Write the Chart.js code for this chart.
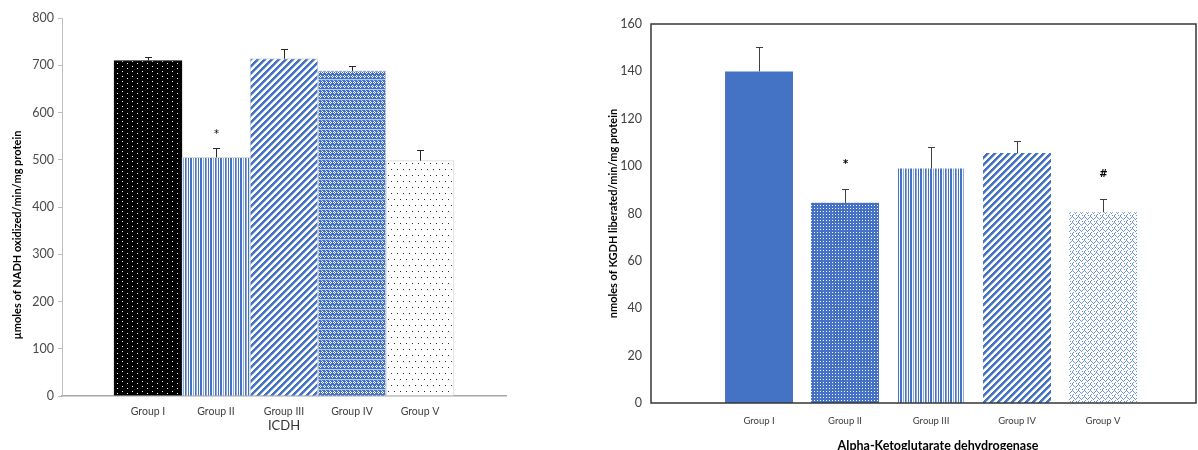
<!DOCTYPE html>
<html>
<head>
<meta charset="utf-8">
<script src="https://cdn.jsdelivr.net/npm/chart.js@4.4.1/dist/chart.umd.min.js"></script>
<style>
  html, body { margin: 0; padding: 0; background: #fff; overflow: hidden; }
  .panel { position: absolute; top: 0; height: 450px; }
  #leftPanel { left: 0; width: 600px; }
  #rightPanel { left: 600px; width: 598px; }
</style>
</head>
<body>
<div class="panel" id="leftPanel"><canvas id="icdh" width="600" height="450"></canvas></div>
<div class="panel" id="rightPanel"><canvas id="kgdh" width="598" height="450"></canvas></div>
<script>
// Experimental groups
const groups = ['Group I', 'Group II', 'Group III', 'Group IV', 'Group V'];
const groupPos = [1, 2, 3, 4, 5];

// Isocitrate dehydrogenase activity (µmoles NADH oxidized/min/mg protein)
const icdhMean = [710, 505, 714, 688, 498];
const icdhErr = [8, 19, 20, 11, 22];
const icdhMarks = ['', '*', '', '', ''];

// Alpha-ketoglutarate dehydrogenase activity (nmoles liberated/min/mg protein)
const kgdhMean = [140, 84.5, 99, 105.5, 80.5];
const kgdhErr = [10.5, 6, 9, 5, 5.5];
const kgdhMarks = ['', '*', '', '', '#'];

// Axis ticks
const icdhTicks = { min: 0, max: 800, step: 100 };
const kgdhTicks = { min: 0, max: 160, step: 20 };

const FONT = 'Lato, "Open Sans", sans-serif';
const MARK_FONT = '"DejaVu Sans", "Liberation Sans", sans-serif';
const BLUE = '#4472C4';

// Build a repeating fill from a small character map
function tile(ctx, rows, colors) {
  const h = rows.length, w = rows[0].length;
  const c = document.createElement('canvas');
  c.width = w; c.height = h;
  const g = c.getContext('2d');
  for (let yy = 0; yy < h; yy++) {
    for (let xx = 0; xx < w; xx++) {
      const col = colors[rows[yy][xx]];
      if (col) { g.fillStyle = col; g.fillRect(xx, yy, 1, 1); }
    }
  }
  return ctx.createPattern(c, 'repeat');
}

// Diagonal "/" hatching
function diagonal(ctx, period, width, color, edge) {
  const rows = [];
  for (let yy = 0; yy < period; yy++) {
    let r = '';
    for (let xx = 0; xx < period; xx++) {
      const k = (xx + yy) % period;
      r += k < width ? 'B' : (k === width ? 'l' : 'w');
    }
    rows.push(r);
  }
  return tile(ctx, rows, { B: color, l: edge, w: '#ffffff' });
}

const pal = { B: BLUE, L: '#8FAADC', l: '#B4C7E7', w: '#ffffff', k: '#000000', d: '#2b2b2b' };

function icdhFills(ctx) {
  return [
    tile(ctx, [
      'kkkkkkkkkk',
      'kkwkkkkkkk',
      'kkkkkkkkkk',
      'kkkkkkkwkk',
      'kkkkkkkkkk',
      'kkkkkkkkkk',
      'kkwkkkkkkk',
      'kkkkkkkkkk',
      'kkkkkkkwkk',
      'kkkkkkkkkk'
    ], pal),
    tile(ctx, ['BBwLwBLwBw'], pal),
    diagonal(ctx, 7, 3, BLUE, '#9DB5E2'),
    tile(ctx, [
      'BlBBBlBB',
      'BBwBBBwB',
      'BwBwBwBw',
      'BBwBBBwB',
      'BBBBBBBB',
      'wBBBwBBB',
      'BwBwBwBw',
      'wBBBwBBB',
      'BBBBBBBB',
      'llllllll'
    ], pal),
    tile(ctx, [
      'wwwwwwwwwwww',
      'wdwwwwwdwwww',
      'wwwwwwwwwwww',
      'wwwwwwwwwwww',
      'wwwwwwwwwwww',
      'wwwwwwwwwwww',
      'wwwwwwwwwwww',
      'wwwwdwwwwwdw',
      'wwwwwwwwwwww',
      'wwwwwwwwwwww',
      'wwwwwwwwwwww',
      'wwwwwwwwwwww'
    ], pal)
  ];
}

function kgdhFills(ctx) {
  return [
    BLUE,
    tile(ctx, [
      'BBBBBB',
      'BwBBwB',
      'BBBBBB',
      'BBBBBB',
      'BwBBwB',
      'BBBBBB'
    ], pal),
    tile(ctx, ['BBwLwBLwBw'], pal),
    diagonal(ctx, 7, 3, BLUE, '#9DB5E2'),
    tile(ctx, [
      'wwwwLw',
      'wwwLwL',
      'LwLwww',
      'wLwwww',
      'wwwwwL',
      'wwLwLw'
    ], { L: '#6F95D8', w: '#ffffff' })
  ];
}

// Error bars with caps, plus significance symbols above them
function errorBarPlugin(mean, err, marks, style) {
  return {
    id: 'errorBars',
    afterDatasetsDraw(chart) {
      const { ctx, scales: { y } } = chart;
      const meta = chart.getDatasetMeta(0);
      ctx.save();
      ctx.strokeStyle = style.color;
      ctx.lineWidth = 1;
      ctx.fillStyle = '#000';
      ctx.font = style.markFont;
      ctx.textAlign = 'center';
      ctx.textBaseline = 'middle';
      meta.data.forEach((bar, i) => {
        const x = Math.round(bar.x) + 0.5;
        const yBar = y.getPixelForValue(mean[i]);
        const yTop = Math.round(y.getPixelForValue(mean[i] + err[i])) + 0.5;
        ctx.beginPath();
        ctx.moveTo(x, yBar);
        ctx.lineTo(x, yTop);
        ctx.moveTo(x - style.cap, yTop);
        ctx.lineTo(x + style.cap, yTop);
        ctx.stroke();
        if (marks[i]) ctx.fillText(marks[i], x, yTop - style.markGap);
      });
      ctx.restore();
    }
  };
}

// Axis caption drawn at a fixed spot of its panel
function caption(text, x, y, font, rotate) {
  return {
    id: 'caption',
    afterDraw(chart) {
      const { ctx } = chart;
      ctx.save();
      ctx.translate(x, y);
      if (rotate) ctx.rotate(-Math.PI / 2);
      ctx.font = font;
      ctx.fillStyle = '#000';
      ctx.textAlign = 'center';
      ctx.textBaseline = 'middle';
      ctx.fillText(text, 0, 0);
      ctx.restore();
    }
  };
}

// Full frame around the KGDH plot area
const frame = {
  id: 'frame',
  afterDatasetsDraw(chart) {
    const { ctx, chartArea: a } = chart;
    ctx.save();
    ctx.strokeStyle = '#363636';
    ctx.lineWidth = 1.5;
    ctx.strokeRect(a.left, a.top, a.right - a.left, a.bottom - a.top);
    ctx.restore();
  }
};

function points(mean) {
  return groupPos.map((p, i) => ({ x: p, y: mean[i] }));
}

function groupTicks(scale) {
  scale.ticks = groupPos.map(v => ({ value: v }));
}

// ---- ICDH panel ----
const ctxL = document.getElementById('icdh').getContext('2d');
new Chart(ctxL, {
  type: 'bar',
  data: {
    datasets: [{
      data: points(icdhMean),
      backgroundColor: icdhFills(ctxL),
      borderColor: ['#000000', '#D9D9D9', '#D9D9D9', '#D9D9D9', '#D9D9D9'],
      borderWidth: 1,
      barPercentage: 1,
      categoryPercentage: 1
    }]
  },
  options: {
    responsive: false,
    animation: false,
    devicePixelRatio: 1,
    layout: { padding: { top: 18, right: 94, left: 0, bottom: 0 } },
    plugins: { legend: { display: false }, tooltip: { enabled: false } },
    scales: {
      x: {
        type: 'linear',
        offset: false,
        min: -0.2647,
        max: 6.2647,
        afterBuildTicks: groupTicks,
        afterFit(s) { s.height = 54; },
        grid: { display: false, drawTicks: false },
        border: { display: true, color: '#A6A6A6', width: 1.5 },
        ticks: {
          autoSkip: false, maxRotation: 0, padding: 9,
          color: '#404040', font: { family: FONT, size: 10.5 },
          callback: v => groups[groupPos.indexOf(v)] || ''
        },
        title: {
          display: true, text: 'ICDH', color: '#333',
          font: { family: FONT, size: 13 },
          padding: { top: 0, bottom: 16 }
        }
      },
      y: {
        min: icdhTicks.min,
        max: icdhTicks.max,
        afterFit(s) { s.width = 62; },
        grid: { drawOnChartArea: false, drawTicks: true, tickLength: 4, color: '#BFBFBF' },
        border: { display: true, color: '#BFBFBF', width: 1 },
        ticks: {
          stepSize: icdhTicks.step, padding: 4,
          color: '#4a4a4a', font: { family: FONT, size: 12.5 }
        }
      }
    }
  },
  plugins: [
    errorBarPlugin(icdhMean, icdhErr, icdhMarks, { color: '#262626', cap: 3.5, markGap: 14, markFont: '10px ' + MARK_FONT }),
    caption('µmoles of NADH oxidized/min/mg protein', 17, 235, 'bold 11px ' + FONT, true)
  ]
});

// ---- KGDH panel ----
const ctxR = document.getElementById('kgdh').getContext('2d');
new Chart(ctxR, {
  type: 'bar',
  data: {
    datasets: [{
      data: points(kgdhMean),
      backgroundColor: kgdhFills(ctxR),
      borderWidth: 0,
      barPercentage: 0.79,
      categoryPercentage: 1
    }]
  },
  options: {
    responsive: false,
    animation: false,
    devicePixelRatio: 1,
    layout: { padding: { top: 24, right: 2, left: 0, bottom: 0 } },
    plugins: { legend: { display: false }, tooltip: { enabled: false } },
    scales: {
      x: {
        type: 'linear',
        offset: false,
        min: -0.256,
        max: 6.081,
        afterBuildTicks: groupTicks,
        afterFit(s) { s.height = 47; },
        grid: { display: false, drawTicks: false },
        border: { display: false },
        ticks: {
          autoSkip: false, maxRotation: 0, padding: 12,
          color: '#404040', font: { family: FONT, size: 9.5 },
          callback: v => groups[groupPos.indexOf(v)] || ''
        }
      },
      y: {
        min: kgdhTicks.min,
        max: kgdhTicks.max,
        afterFit(s) { s.width = 51; },
        grid: { display: false, drawTicks: false },
        border: { display: false },
        ticks: {
          stepSize: kgdhTicks.step, padding: 9,
          color: '#404040', font: { family: FONT, size: 12.5 }
        },
        title: {
          display: true, text: 'nmoles of KGDH liberated/min/mg protein', color: '#000',
          font: { family: FONT, size: 11, weight: 'bold' },
          padding: { top: 6.4, bottom: 0 }
        }
      }
    }
  },
  plugins: [
    errorBarPlugin(kgdhMean, kgdhErr, kgdhMarks, { color: '#404040', cap: 3.5, markGap: 25, markFont: 'bold 10px ' + MARK_FONT }),
    frame,
    caption('Alpha-Ketoglutarate dehydrogenase', 338, 446, 'bold 12.5px ' + FONT, false)
  ]
});
</script>
</body>
</html>
